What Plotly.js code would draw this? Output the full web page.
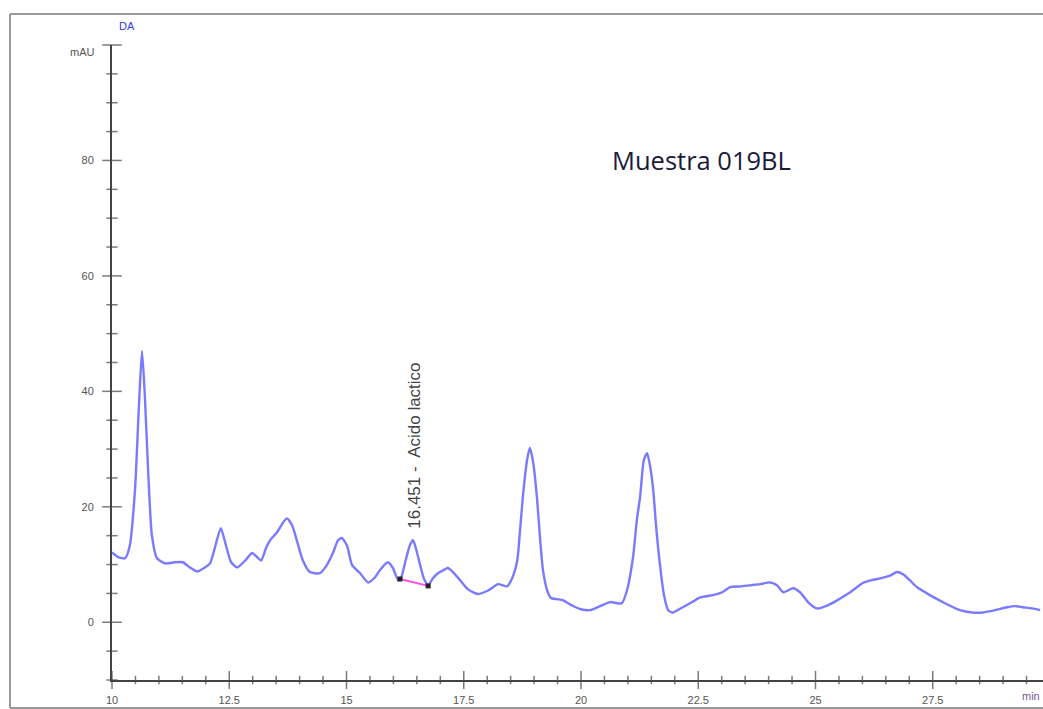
<!DOCTYPE html>
<html>
<head>
<meta charset="utf-8">
<script src="https://cdn.plot.ly/plotly-3.0.1.min.js"></script>
<style>html,body{margin:0;padding:0;background:#fff;overflow:hidden}#chart{width:1043px;height:709px}</style>
</head>
<body>
<div id="chart"></div>
<script>
// Retention time (min)
const timeMin = [10.00,10.13,10.28,10.38,10.49,10.58,10.64,10.70,10.77,10.85,10.96,11.13,11.34,11.51,11.66,11.81,11.98,12.09,12.19,12.32,12.43,12.54,12.67,12.84,12.99,13.09,13.18,13.28,13.37,13.52,13.65,13.73,13.84,13.94,14.07,14.22,14.43,14.58,14.71,14.82,14.90,15.01,15.12,15.29,15.46,15.61,15.71,15.88,15.99,16.10,16.16,16.26,16.35,16.42,16.48,16.57,16.65,16.74,16.84,16.95,17.06,17.16,17.27,17.42,17.59,17.80,18.02,18.23,18.34,18.42,18.53,18.64,18.70,18.76,18.85,18.91,18.98,19.06,19.13,19.19,19.28,19.36,19.49,19.62,19.81,19.98,20.19,20.41,20.62,20.77,20.87,20.98,21.11,21.19,21.26,21.34,21.41,21.47,21.54,21.60,21.68,21.77,21.86,21.96,22.17,22.37,22.54,22.81,23.01,23.18,23.39,23.60,23.82,24.03,24.18,24.31,24.41,24.52,24.67,24.84,25.03,25.25,25.46,25.74,26.01,26.20,26.38,26.59,26.74,26.87,27.01,27.16,27.44,27.76,28.08,28.34,28.57,28.83,29.08,29.25,29.42,29.62,29.79];
// Absorbance (mAU)
const signalMAU = [12.1,11.3,11.1,13.3,22.9,38.5,47.0,39.3,26.3,15.1,11.1,10.2,10.4,10.4,9.5,8.8,9.5,10.2,12.8,16.3,13.3,10.4,9.5,10.7,12.0,11.3,10.7,12.8,14.2,15.6,17.3,18.0,16.8,14.2,10.7,8.7,8.5,9.9,12.0,14.2,14.6,13.3,9.9,8.5,6.9,7.8,9.0,10.4,9.4,7.3,7.6,10.7,13.3,14.2,12.8,9.9,7.6,6.4,7.6,8.5,9.0,9.4,8.7,7.3,5.7,4.9,5.5,6.6,6.4,6.2,7.6,10.7,15.9,21.7,28.1,30.2,27.7,21.7,14.2,9.0,5.5,4.2,4.0,3.8,2.9,2.3,2.1,2.8,3.5,3.3,3.3,5.5,11.3,17.7,21.7,28.1,29.3,27.2,22.9,16.8,10.2,4.7,2.1,1.7,2.6,3.5,4.3,4.7,5.2,6.1,6.2,6.4,6.6,6.9,6.4,5.2,5.5,5.9,5.2,3.5,2.4,2.9,3.8,5.2,6.8,7.3,7.6,8.1,8.7,8.3,7.3,6.1,4.7,3.3,2.1,1.7,1.7,2.1,2.6,2.8,2.6,2.4,2.1];
// Integration baseline of the lactic acid peak
const baseX = [16.14, 16.74];
const baseY = [7.5, 6.3];
const peakRT = 16.451;
const peakLabel = "16.451 -  Acido lactico";
const sampleLabel = "Muestra 019BL";
const yHiddenLabel = {"100": " "};
// Axis tick steps (major / minor)
const xMajorStep = 2.5, xMinorStep = 0.5;
const yMajorStep = 20, yMinorStep = 5;

const W = 1043, H = 709, L = 112, T = 45, B = 29;
const PW = W - L, PH = H - T - B;
const xMin = 10, xMax = 10 + PW / 46.9, yMin = -10, yMax = 100;
const px = v => (v - L) / PW;
const py = v => (H - B - v) / PH;

// tick positions along each axis
const xTickPos = [], xTickSize = [];
for (let i = 0; xMin + i * xMinorStep <= xMax + 1e-9; i++) {
  const v = +(xMin + i * xMinorStep).toFixed(3);
  xTickPos.push(v);
  xTickSize.push(Math.abs(v / xMajorStep - Math.round(v / xMajorStep)) < 1e-6 ? 13 : 6);
}
const yTickPos = [], yTickSize = [];
for (let i = 0; yMin + i * yMinorStep <= yMax + 1e-9; i++) {
  const v = yMin + i * yMinorStep;
  yTickPos.push(v);
  yTickSize.push(Math.abs(v / yMajorStep - Math.round(v / yMajorStep)) < 1e-6 ? 14 : 8);
}

const tc = '#444';
const traces = [
  {x: timeMin, y: signalMAU, type: 'scatter', mode: 'lines',
   line: {color: 'rgba(70,70,255,0.72)', width: 2.4, shape: 'spline', smoothing: 0.6},
   hoverinfo: 'x+y'},
  {x: baseX, y: baseY, type: 'scatter', mode: 'lines+markers',
   line: {color: '#ff4fe6', width: 2},
   marker: {color: '#222', size: 5, symbol: 'square'}},
  // axis tick marks
  {x: xTickPos, y: xTickPos.map(() => yMin), type: 'scatter', mode: 'markers', cliponaxis: false, hoverinfo: 'skip',
   marker: {symbol: 'line-ns', size: xTickSize, color: tc, line: {color: tc, width: 1.5}}},
  {x: yTickPos.map(() => xMin), y: yTickPos, type: 'scatter', mode: 'markers', cliponaxis: false, hoverinfo: 'skip',
   marker: {symbol: 'line-ew', size: yTickSize, color: tc, line: {color: tc, width: 1.5}}}
];

const tickFont = {family: 'Liberation Sans, Arial, sans-serif', size: 11, color: '#555'};
const layout = {
  width: W, height: H,
  margin: {l: L, r: 0, t: T, b: B, pad: 0},
  paper_bgcolor: '#fff', plot_bgcolor: '#fff',
  showlegend: false,
  xaxis: {range: [xMin, xMax], showgrid: false, zeroline: false,
    showline: true, linecolor: '#444', linewidth: 2,
    tickmode: 'linear', tick0: 10, dtick: xMajorStep, ticks: '',
    tickfont: tickFont, ticklabelstandoff: 9},
  yaxis: {range: [yMin, yMax], showgrid: false, zeroline: false,
    showline: true, linecolor: '#444', linewidth: 2,
    tickmode: 'linear', tick0: 0, dtick: yMajorStep, labelalias: yHiddenLabel, ticks: '',
    tickfont: tickFont, ticklabelstandoff: 14},
  shapes: [
    {type: 'line', xref: 'paper', yref: 'paper', x0: px(10), x1: px(1060), y0: py(14), y1: py(14), line: {color: '#999', width: 2}},
    {type: 'line', xref: 'paper', yref: 'paper', x0: px(10), x1: px(10), y0: py(14), y1: py(708), line: {color: '#999', width: 2}},
    {type: 'line', xref: 'paper', yref: 'paper', x0: px(10), x1: px(1060), y0: py(708), y1: py(708), line: {color: '#999', width: 2}}
  ],
  annotations: [
    {x: peakRT, y: 30.5, xref: 'x', yref: 'y', text: peakLabel, showarrow: false, textangle: -90,
     font: {family: 'Liberation Sans, Arial, sans-serif', size: 17, color: '#444'}},
    {x: 20.62, y: 80.1, xref: 'x', yref: 'y', text: sampleLabel, showarrow: false, xanchor: 'left', yanchor: 'middle',
     font: {family: 'Open Sans, sans-serif', size: 25.5, color: '#1a1a3a'}},
    {x: px(117), y: py(26), xref: 'paper', yref: 'paper', text: 'DA', showarrow: false, xanchor: 'left', yanchor: 'middle',
     font: {family: 'Liberation Sans, Arial, sans-serif', size: 11, color: '#3a3aff'}},
    {x: px(97), y: py(52), xref: 'paper', yref: 'paper', text: 'mAU', showarrow: false, xanchor: 'right', yanchor: 'middle',
     font: {family: 'Liberation Sans, Arial, sans-serif', size: 11, color: '#555'}},
    {x: px(1042), y: py(696), xref: 'paper', yref: 'paper', text: 'min', showarrow: false, xanchor: 'right', yanchor: 'middle',
     font: {family: 'Liberation Sans, Arial, sans-serif', size: 11, color: '#7a5a9a'}}
  ]
};

Plotly.newPlot('chart', traces, layout, {displayModeBar: false, staticPlot: true});
</script>
</body>
</html>
